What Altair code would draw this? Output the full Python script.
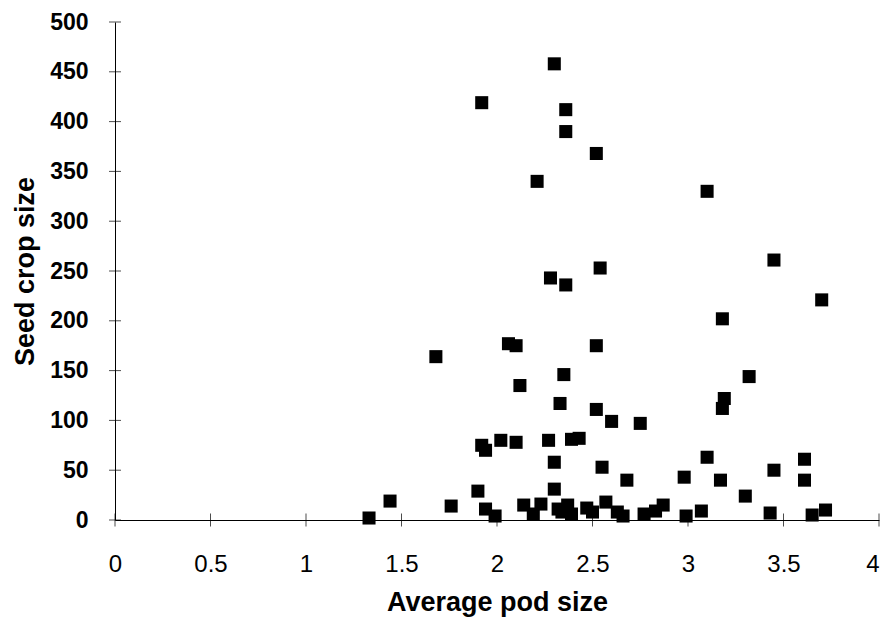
import altair as alt
import pandas as pd

# Average pod size (x) and seed crop size (y)
pod_size = [2.30, 1.92, 2.36, 2.36, 2.52, 2.21, 3.10, 3.45, 2.54, 2.28,
            2.36, 3.70, 3.18, 2.06, 2.10, 2.52, 1.68, 2.35, 3.32, 2.12,
            3.19, 2.33, 3.18, 2.52, 2.60, 2.75,
            2.43, 2.39, 2.02, 2.27, 2.10, 1.92, 1.94, 3.10, 3.61, 2.30,
            2.55, 3.45, 2.98, 3.61, 2.68, 3.17, 2.30, 1.90, 3.30,
            1.44, 1.76, 2.14, 2.23, 2.19, 1.94, 1.99, 2.32, 2.37, 2.34,
            2.39, 2.47, 2.50, 2.57, 2.63, 2.66, 2.77, 2.83, 2.87, 2.99,
            3.07, 3.43, 3.65, 3.72, 1.33]
seed_crop = [458, 419, 412, 390, 368, 340, 330, 261, 253, 243,
             236, 221, 202, 177, 175, 175, 164, 146, 144, 135,
             122, 117, 112, 111, 99, 97,
             82, 81, 80, 80, 78, 75, 70, 63, 61, 58,
             53, 50, 43, 40, 40, 40, 31, 29, 24,
             19, 14, 15, 16, 6, 11, 4, 11, 15, 8,
             6, 12, 8, 18, 8, 4, 6, 9, 15, 4,
             9, 7, 5, 10, 2]

x_ticks = [0, 0.5, 1, 1.5, 2, 2.5, 3, 3.5, 4]
y_ticks = [0, 50, 100, 150, 200, 250, 300, 350, 400, 450, 500]

df = pd.DataFrame({"pod": pod_size, "seed": seed_crop})
xt = pd.DataFrame({"t": x_ticks})
yt = pd.DataFrame({"t": y_ticks})

FONT = "Liberation Sans"

x_scale = alt.Scale(domain=[0, 4], nice=False, zero=True)
y_scale = alt.Scale(domain=[0, 500], nice=False, zero=True)

x_axis = alt.Axis(
    values=x_ticks, format="~g", ticks=False, tickSize=0, grid=False,
    domainColor="black", domainWidth=1,
    labelFont=FONT, labelFontSize=24, labelColor="black", labelPadding=32,
    labelFlush=False,
    labelAlign={"condition": {"test": "datum.value >= 4", "value": "right"},
                "value": "center"},
    title="Average pod size", titleFont=FONT, titleFontSize=27,
    titleFontWeight="bold", titleColor="black",
    titleY=90, titleBaseline="alphabetic",
)
y_axis = alt.Axis(
    values=y_ticks, ticks=False, tickSize=0, grid=False,
    domainColor="black", domainWidth=1,
    labelFont=FONT, labelFontSize=23, labelFontWeight="bold",
    labelColor="black", labelPadding=27, labelFlush=False,
    title="Seed crop size", titleFont=FONT, titleFontSize=27,
    titleFontWeight="bold", titleColor="black",
    titleX=-82, titleBaseline="alphabetic", titleAngle=270,
)

points = alt.Chart(df).mark_square(
    size=170, color="black", opacity=1, filled=True
).encode(
    x=alt.X("pod:Q", scale=x_scale, axis=x_axis),
    y=alt.Y("seed:Q", scale=y_scale, axis=y_axis),
)

xticks = alt.Chart(xt).mark_tick(
    orient="vertical", size=13, thickness=1, color="black"
).encode(
    x=alt.X("t:Q", scale=x_scale),
    y=alt.datum(0, scale=y_scale),
)

yticks = alt.Chart(yt).mark_tick(
    orient="horizontal", size=12, thickness=1, color="black"
).encode(
    y=alt.Y("t:Q", scale=y_scale),
    x=alt.datum(0, scale=x_scale),
)

chart = alt.layer(xticks, yticks, points).properties(
    width=764, height=498,
    autosize=alt.AutoSizeParams(type="none"),
    padding={"left": 107, "top": 14, "right": 1, "bottom": 97},
    background="white",
).configure_view(stroke=None)

chart.save("out.html", embed_options={"renderer": "svg", "actions": False})
